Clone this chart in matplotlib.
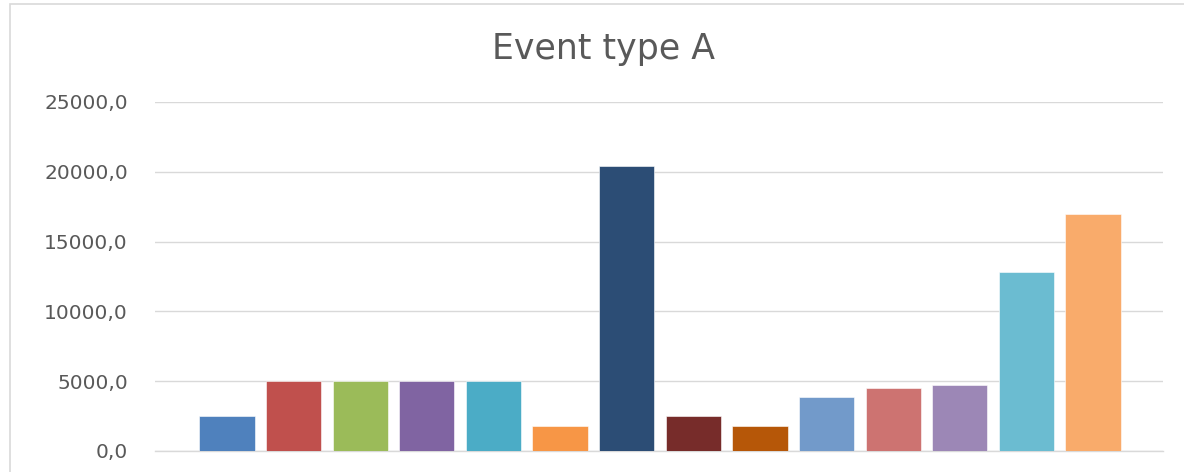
import matplotlib
matplotlib.use("Agg")
import matplotlib.pyplot as plt
from matplotlib.patches import Rectangle
from matplotlib.ticker import FuncFormatter

# Data
categories = [f"C{i}" for i in range(1, 15)]
values = [2500, 5000, 5000, 5000, 5000, 1800, 20400, 2500, 1800,
          3900, 4500, 4700, 12800, 17000]
bar_colors = ["#4F81BD", "#C0504D", "#9BBB59", "#8064A2", "#4BACC6", "#F79646",
              "#2C4D75", "#772C2A", "#B65708", "#729ACA", "#CD7371", "#9C87B6",
              "#6BBCD1", "#F9AB6B"]
yticks = [0, 5000, 10000, 15000, 20000, 25000]
title = "Event type A"

W, H = 1184, 472
fig = plt.figure(figsize=(W / 100, H / 100), dpi=100)
fig.patch.set_facecolor("white")

# Chart frame (extends past the right and bottom edges)
fig.patches.append(Rectangle((10 / W, -0.05), 1.2, 1 - 4 / H + 0.05,
                             transform=fig.transFigure, fill=False,
                             edgecolor="#d9d9d9", linewidth=1.2))

ax = fig.add_axes([155 / W, 1 - 451 / H, (1163 - 155) / W, (451 - 102) / H])
x = list(range(len(categories)))
ax.bar(x, values, width=0.83, color=bar_colors, zorder=3,
       edgecolor="white", linewidth=0.4)

ax.set_ylim(0, 25000)
ax.set_xlim(-1.08, 14.05)
ax.set_yticks(yticks)
ax.yaxis.set_major_formatter(FuncFormatter(lambda v, p: f"{v:.1f}".replace(".", ",")))
ax.tick_params(axis="y", length=0, pad=19.5, labelsize=14.5, labelcolor="#595959")
ax.set_xticks([])
ax.grid(axis="y", color="#d9d9d9", linewidth=1.0, zorder=0)
for side in ["top", "right", "left"]:
    ax.spines[side].set_visible(False)
ax.spines["bottom"].set_color("#d9d9d9")
ax.spines["bottom"].set_linewidth(1.0)

fig.text(603 / W, 1 - 49 / H, title, ha="center", va="center",
         fontsize=25, color="#595959")

fig.savefig("out.png", dpi=100, facecolor="white")
